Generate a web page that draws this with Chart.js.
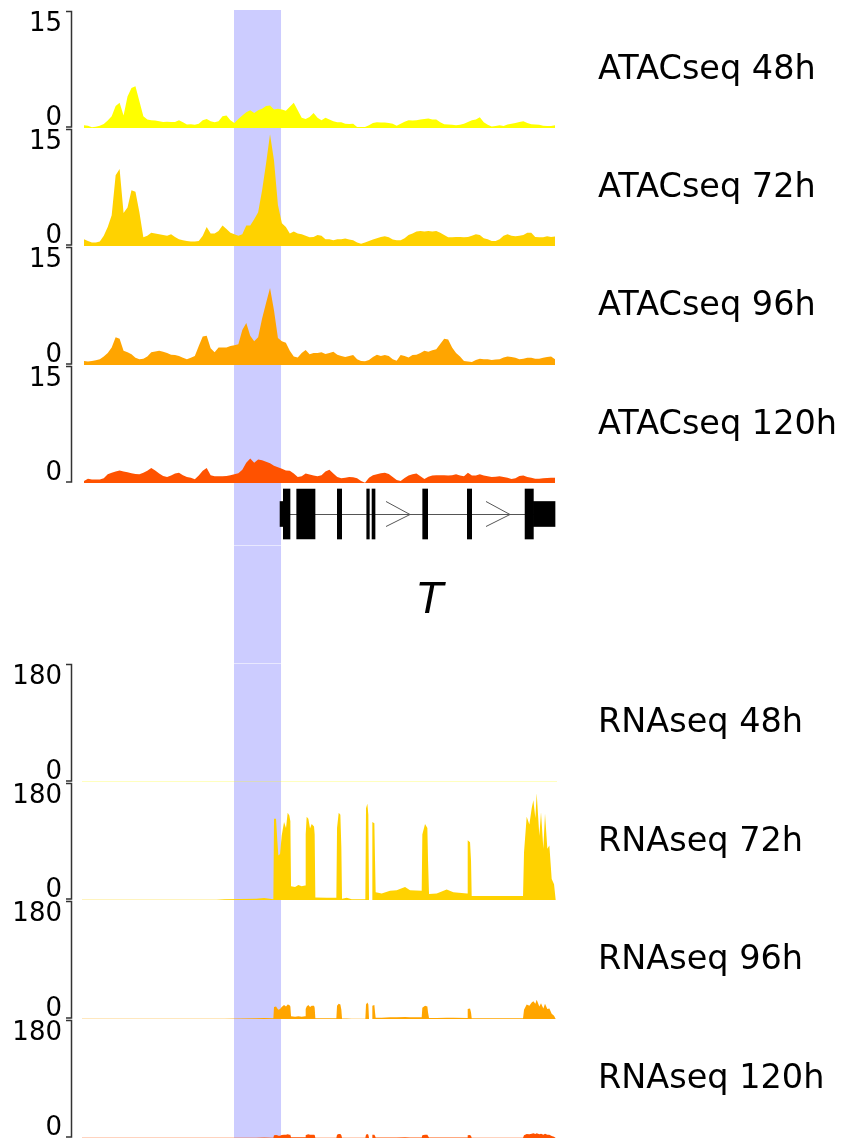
<!DOCTYPE html>
<html><head><meta charset="utf-8">
<script src="https://cdn.jsdelivr.net/npm/chart.js@4"></script>
<style>
html,body{margin:0;padding:0;background:#fff;}
#wrap{position:relative;width:841px;height:1142px;overflow:hidden;}
#wrap canvas{position:absolute;left:0;}
</style></head><body><div id="wrap"></div>
<script>
// ---------- DATA (genomic coordinate in bins across the region) ----------
const regionRange = [0, 120];
const highlightRange = [38.4, 50.28];

const atacTitles = ['ATACseq 48h', 'ATACseq 72h', 'ATACseq 96h', 'ATACseq 120h'];
const rnaTitles = ['RNAseq 48h', 'RNAseq 72h', 'RNAseq 96h', 'RNAseq 120h'];
const atacTicks = [0, 15];
const rnaTicks = [0, 180];

const atac48 = [0.34,0.3,0.1,0.17,0.3,0.5,0.95,1.5,2.8,3.2,
1.6,4.0,5.1,5.3,3.4,1.5,1.07,1.0,0.95,0.85,
0.77,0.8,0.77,0.77,1.0,0.73,0.43,0.47,0.4,0.55,
1.0,1.15,0.85,0.73,0.85,1.5,1.6,1.0,0.65,1.15,
1.6,2.0,2.25,1.9,2.25,2.45,2.8,2.85,2.35,2.45,
2.35,2.2,2.7,3.2,2.25,1.3,1.15,1.4,1.9,1.3,
1.0,1.3,1.07,0.85,0.73,0.73,0.55,0.5,0.55,0.13,
0.13,0.13,0.34,0.65,0.73,0.7,0.7,0.65,0.55,0.3,
0.55,0.8,1.0,0.95,1.0,1.07,1.15,1.2,1.07,1.07,
0.73,0.47,0.43,0.4,0.34,0.4,0.55,0.77,1.0,1.07,
1.37,0.73,0.4,0.2,0.25,0.34,0.25,0.43,0.55,0.65,
0.77,0.85,0.65,0.47,0.43,0.4,0.3,0.25,0.25,0.34];

const atac72 = [0.86,0.64,0.43,0.43,0.56,1.3,2.4,3.9,9.0,9.8,
4.2,4.9,7.1,6.9,4.3,1.1,1.3,1.7,1.6,1.5,
1.4,1.3,1.5,1.15,0.86,0.73,0.64,0.56,0.56,0.64,
1.3,2.4,1.6,1.6,1.9,2.6,2.15,1.7,1.5,1.3,
1.5,2.6,2.6,3.4,4.3,7.1,10.5,14.2,10.9,5.2,
2.9,2.4,1.6,1.85,1.6,1.5,1.3,1.1,1.15,1.4,
1.3,0.86,0.86,0.73,0.86,0.86,0.94,0.82,0.73,0.43,
0.3,0.43,0.64,0.82,1.0,1.15,1.25,1.1,0.82,0.73,
0.73,1.0,1.4,1.6,1.85,1.9,1.85,1.9,1.85,1.9,
1.7,1.4,1.1,1.1,1.15,1.15,1.1,1.15,1.3,1.5,
1.4,1.0,0.86,0.64,0.64,0.86,1.3,1.5,1.3,1.25,
1.3,1.4,1.7,1.7,1.15,1.1,1.1,1.25,1.15,1.2];

const atac96 = [0.5,0.43,0.5,0.6,0.73,1.07,1.5,2.2,3.5,3.3,
1.8,1.6,1.37,0.9,0.73,0.8,1.07,1.6,1.7,1.8,
1.67,1.5,1.3,1.25,1.15,0.9,0.73,0.9,1.15,2.4,
3.6,3.7,2.1,1.6,2.2,2.2,2.2,2.4,2.5,2.6,
4.4,5.3,3.7,3.0,3.5,5.85,7.8,9.7,6.9,3.4,
3.0,2.8,1.8,1.07,0.94,1.5,1.9,1.37,1.5,1.5,
1.6,1.4,1.5,1.67,1.3,1.15,1.0,1.15,1.25,0.73,
0.5,0.47,0.64,1.0,1.3,1.15,1.25,1.15,0.73,0.55,
1.25,1.15,0.94,1.25,1.3,1.5,1.8,1.67,1.85,2.0,
2.65,3.3,3.2,2.2,1.5,1.07,0.5,0.43,0.38,0.64,
0.8,0.73,0.73,0.64,0.68,0.73,0.94,1.07,1.0,0.9,
0.73,0.8,0.9,0.9,0.8,0.8,0.9,1.0,1.07,0.73];

const atac120 = [0.26,0.55,0.43,0.43,0.43,0.6,1.1,1.3,1.45,1.6,
1.45,1.37,1.25,1.15,1.1,1.3,1.55,1.9,1.6,1.2,
0.9,0.77,0.94,1.2,1.3,1.0,0.77,0.68,0.47,0.94,
1.55,1.9,1.0,0.85,0.85,0.85,0.9,1.0,1.1,1.25,
1.7,2.56,3.1,2.56,3.0,2.9,2.7,2.5,2.2,2.0,
1.8,1.6,1.55,1.2,0.77,0.85,1.2,1.07,0.94,0.85,
1.0,1.45,1.7,1.2,0.77,0.6,0.68,0.77,0.73,0.6,
0.26,0.04,0.68,1.0,1.1,1.25,1.3,1.15,0.77,0.38,
0.26,0.64,0.94,1.1,1.2,0.85,0.51,0.8,0.94,1.0,
1.0,1.0,0.94,1.0,1.1,0.94,0.85,1.3,0.94,0.94,
1.1,0.94,0.85,0.77,0.8,0.85,0.77,0.68,0.51,0.6,
0.9,0.94,0.77,0.68,0.55,0.55,0.6,0.64,0.68,0.68];

const rnaPos = [0,34,36,40,44,46,48.34,48.51,49.02,49.35,
49.61,50.03,50.45,51.04,51.54,51.96,52.38,52.64,52.81,53.82,
54.66,55.5,56.34,56.51,56.76,57.18,57.61,58.03,58.62,58.78,
58.95,61.82,64.26,64.43,64.85,65.27,65.52,65.69,66.87,68.13,
71.58,71.75,72.09,72.34,72.51,73.27,73.35,73.86,74.03,74.19,
75.71,77.82,79.5,81.61,82.87,85.82,85.98,86.66,87.25,87.42,
87.67,89.61,92.13,93.82,97.27,97.44,98.03,98.28,98.45,106.45,
111.42,111.67,112.34,113.02,113.61,114.03,114.53,114.87,115.54,115.96,
116.55,116.97,117.56,118.07,118.66,119.25,119.67,120];

const rna48 = [0.4,0.4,0.4,0.4,0.4,0.4,0.4,0.4,0.4,0.4,
0.4,0.4,0.4,0.4,0.4,0.4,0.4,0.4,0.4,0.4,
0.4,0.4,0.4,0.4,0.4,0.4,0.4,0.4,0.4,0.4,
0.4,0.4,0.4,0.4,0.4,0.4,0.4,0.4,0.4,0.4,
0.4,0.4,0.4,0.4,0.4,0.4,0.4,0.4,0.4,0.4,
0.4,0.4,0.4,0.4,0.4,0.4,0.4,0.4,0.4,0.4,
0.4,0.4,0.4,0.4,0.4,0.4,0.4,0.4,0.4,0.4,
0.4,0.4,0.4,0.4,0.4,0.4,0.4,0.4,0.4,0.4,
0.4,0.4,0.4,0.4,0.4,0.4,0.4,0.4];

const rna72 = [0.3,0.3,1,1.5,2,3,1,124,124,90,
68,70,98,119,110,133,129,120,21,20,
23,21,22,100,127,124,109,116,112,100,
4,3.5,3.5,110,133,130,80,2,3.6,1,
1,140,147,130,0,0,119,117,60,12,
10,14,15,20,15,14,100,116,110,60,
9,10,16,12,10,91,88,60,6,6,
6,73,127,115,140,152,125,163,98,134,
78,132,78,83,32,24,0,0];

const rna96 = [0.3,0.3,0.5,0.8,1.2,1.5,1,18,19,16,
14,15,18,21,19,22,21,19,4,3.5,
4,3.5,4,15,19,21,18,20,20,17,
1,1,1,20,23,22,14,0.8,0.8,0.5,
0.5,22,25,22,0,0,20,21,10,2,
2,2.5,2.5,3,2.5,2.5,17,20,19,10,
1.5,1.5,2,1.8,1.5,15,16,10,1.2,1.2,
1.2,14,22,20,25,27,23,29,19,24,
16,23,15,16,8,5,0,0];

const rna120 = [0.3,0.3,0.4,0.4,0.5,0.6,0.5,4,4.5,4,
3.5,3.5,4.5,5,5,5.5,5,5,1.2,1,
1.2,1,1.2,4,5,5.5,5,5,5,4.5,
0.5,0.5,0.5,5,6,6,4,0.4,0.4,0.3,
0.3,5,6,5,0,0,5,5,3,0.8,
0.8,0.8,0.8,1,0.8,0.8,4,5,5,3,
0.6,0.6,0.7,0.6,0.6,4,4.5,3,0.5,0.5,
0.5,4,6,5.5,6.5,7,6,7,5.5,6.5,
5,6.5,5,5,3,2,0,0];

const geneName = 'T';
const geneRange = [50.03, 119.5];
const codingExons = [[50.86,52.55],[54.24,58.87],[64.5,65.6],[71.93,72.59],[73.27,74.03],[86.07,87.33],[97.35,98.45],[111.93,114.03]];
const utrExons = [[50.03,50.86],[114.03,119.5]];
const strandArrowTips = [82.87, 108.13];

// ---------- STYLE / LAYOUT ----------
const atacColors = ['#ffff00', '#ffd200', '#ffa500', '#ff5200'];
const rnaColors = ['#ffff00', '#ffd200', '#ffa500', '#ff5200'];
const W = 841;
const PAD_L = 82, PAD_R = 284;
const atacBoxes = [[10,118],[128,118],[246,119],[365,118]];
const geneBox = [483, 180];
const rnaBoxes = [[663,119],[782,118],[900,119],[1019,119]];
const TITLE_FONT = '33.5px "DejaVu Sans"';
const TICK_FONT = '26px "DejaVu Sans"';

const wrap = document.getElementById('wrap');
function mkCanvas(top, height) {
  const c = document.createElement('canvas');
  c.width = W; c.height = height;
  c.style.top = top + 'px';
  c.style.width = W + 'px'; c.style.height = height + 'px';
  wrap.appendChild(c);
  return c;
}

const bandPlugin = {
  id: 'band',
  beforeDatasetsDraw(chart, args, opts) {
    const xs = chart.scales.x, ctx = chart.ctx;
    const x0 = xs.getPixelForValue(highlightRange[0]);
    const x1 = xs.getPixelForValue(highlightRange[1]);
    ctx.save();
    ctx.fillStyle = '#ccccff';
    ctx.fillRect(x0, 0, x1 - x0, chart.height);
    (opts && opts.seams ? opts.seams : []).forEach(y => {
      ctx.fillStyle = 'rgba(255,255,255,0.55)';
      ctx.fillRect(x0, y, x1 - x0, 1);
    });
    ctx.restore();
  }
};

const trackAxisPlugin = {
  id: 'trackAxis',
  afterDraw(chart, args, opts) {
    const ctx = chart.ctx, ys = chart.scales.y;
    const yTop = ys.getPixelForValue(opts.ticks[1]);
    const yBot = ys.getPixelForValue(opts.ticks[0]);
    ctx.save();
    ctx.strokeStyle = '#333';
    ctx.lineWidth = 1.5;
    ctx.beginPath();
    ctx.moveTo(66, yTop + 1.5); ctx.lineTo(71.5, yTop + 1.5);
    ctx.lineTo(71.5, yBot - 1); ctx.lineTo(66, yBot - 1);
    ctx.stroke();
    ctx.fillStyle = '#000';
    ctx.font = TICK_FONT;
    ctx.textAlign = 'right';
    ctx.textBaseline = 'alphabetic';
    ctx.fillText(String(opts.ticks[1]), 62, yTop + 21);
    ctx.fillText(String(opts.ticks[0]), 62, yBot - 3);
    ctx.font = TITLE_FONT;
    ctx.textAlign = 'left';
    ctx.textBaseline = 'middle';
    ctx.fillText(opts.title, 598, (yTop + yBot) / 2 + 1);
    ctx.restore();
  }
};

function baseOptions() {
  return {
    responsive: false, animation: false, events: [],
    layout: { padding: { left: PAD_L, right: PAD_R, top: 0, bottom: 0 } },
    plugins: { legend: { display: false }, tooltip: { enabled: false }, title: { display: false } },
  };
}

function signalTrack(box, points, color, ticks, title, seams) {
  const opts = baseOptions();
  opts.scales = {
    x: { type: 'linear', min: regionRange[0], max: regionRange[1], display: false },
    y: { type: 'linear', min: ticks[0], max: ticks[1], display: false }
  };
  opts.plugins.trackAxis = { ticks: ticks, title: title };
  opts.plugins.band = { seams: seams || [] };
  new Chart(mkCanvas(box[0], box[1]), {
    type: 'line',
    data: { datasets: [{
      data: points, fill: 'origin', backgroundColor: color,
      borderColor: 'rgba(0,0,0,0)', borderWidth: 0, pointRadius: 0, tension: 0
    }] },
    options: opts,
    plugins: [bandPlugin, trackAxisPlugin]
  });
}

const atacSeries = [atac48, atac72, atac96, atac120];
atacSeries.forEach((vals, k) => {
  const pts = vals.map((v, i) => ({ x: regionRange[0] + i + 0.5, y: v }));
  signalTrack(atacBoxes[k], pts, atacColors[k], atacTicks, atacTitles[k]);
});

// gene track
const genePlugin = {
  id: 'geneDecor',
  beforeDatasetsDraw(chart) {
    const xs = chart.scales.x, ctx = chart.ctx, a = chart.chartArea;
    const cy = (a.top + a.bottom) / 2;
    ctx.save();
    ctx.strokeStyle = '#555';
    ctx.lineWidth = 1;
    ctx.beginPath();
    ctx.moveTo(xs.getPixelForValue(geneRange[0]), cy + 0.5);
    ctx.lineTo(xs.getPixelForValue(geneRange[1]), cy + 0.5);
    ctx.stroke();
    strandArrowTips.forEach(t => {
      const px = xs.getPixelForValue(t);
      ctx.beginPath();
      ctx.moveTo(px - 24, cy - 12.5);
      ctx.lineTo(px, cy + 0.5);
      ctx.lineTo(px - 24, cy + 12.5);
      ctx.stroke();
    });
    ctx.restore();
  },
  afterDraw(chart) {
    const xs = chart.scales.x, ctx = chart.ctx, a = chart.chartArea;
    const mid = (geneRange[0] + geneRange[1]) / 2;
    ctx.save();
    ctx.fillStyle = '#000';
    ctx.font = 'italic 42px "DejaVu Sans"';
    ctx.textAlign = 'left';
    ctx.textBaseline = 'middle';
    ctx.fillText(geneName, xs.getPixelForValue(mid), a.bottom + 57);
    ctx.restore();
  }
};
{
  const opts = baseOptions();
  opts.indexAxis = 'y';
  opts.layout.padding.bottom = 118;
  opts.scales = {
    x: { type: 'linear', min: regionRange[0], max: regionRange[1], display: false },
    y: { type: 'category', display: false }
  };
  opts.plugins.band = { seams: [62] };
  new Chart(mkCanvas(geneBox[0], geneBox[1]), {
    type: 'bar',
    data: {
      labels: [geneName],
      datasets: [
        { data: codingExons.map(e => ({ x: e, y: geneName })), backgroundColor: '#000', barThickness: 50, grouped: false, borderWidth: 0 },
        { data: utrExons.map(e => ({ x: e, y: geneName })), backgroundColor: '#000', barThickness: 25, grouped: false, borderWidth: 0 }
      ]
    },
    options: opts,
    plugins: [bandPlugin, genePlugin]
  });
}

const rnaSeries = [rna48, rna72, rna96, rna120];
rnaSeries.forEach((vals, k) => {
  const pts = rnaPos.map((x, i) => ({ x: x, y: vals[i] }));
  signalTrack(rnaBoxes[k], pts, rnaColors[k], rnaTicks, rnaTitles[k], k === 0 ? [0] : []);
});
</script>
</body></html>
